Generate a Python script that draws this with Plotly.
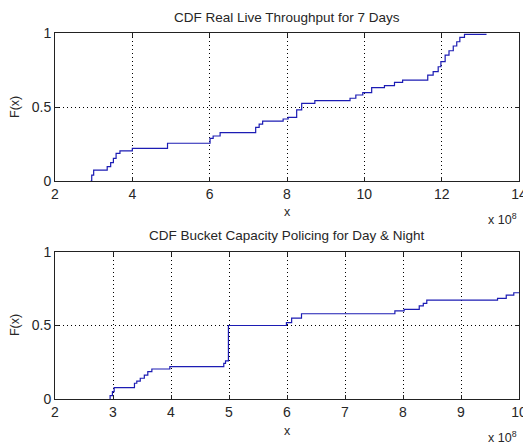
import plotly.graph_objects as go
from plotly.subplots import make_subplots

# Top: CDF Real Live Throughput for 7 Days (x in units of 1e8)
top_x = [2.92, 2.95, 3.0, 3.35, 3.44, 3.51, 3.58, 3.68, 4.0, 4.91, 6.01, 6.09, 6.27,
         7.19, 7.28, 7.37, 7.9, 8.03, 8.25, 8.38, 8.72, 9.63, 9.78, 9.96, 10.19,
         10.52, 10.78, 10.99, 11.64, 11.78, 11.91, 11.98, 12.09, 12.19, 12.3, 12.39,
         12.47, 12.59, 13.16]
top_y = [0, 0.04, 0.074, 0.097, 0.124, 0.153, 0.187, 0.203, 0.221, 0.255, 0.288, 0.304,
         0.327, 0.363, 0.385, 0.405, 0.419, 0.43, 0.48, 0.525, 0.543, 0.559, 0.581,
         0.597, 0.631, 0.644, 0.667, 0.682, 0.716, 0.739, 0.772, 0.806, 0.851, 0.88,
         0.912, 0.941, 0.971, 0.991, 0.991]

# Bottom: CDF Bucket Capacity Policing for Day & Night (x in units of 1e8)
bot_x = [2.94, 2.95, 2.99, 3.02, 3.37, 3.41, 3.47, 3.54, 3.6, 3.67, 3.98, 4.91, 4.94,
         4.99, 5.99, 6.08, 6.25, 7.86, 8.02, 8.28, 8.35, 8.41, 9.63, 9.78, 9.91, 10.0]
bot_y = [0, 0.023, 0.05, 0.077, 0.107, 0.122, 0.141, 0.163, 0.186, 0.204, 0.22, 0.243,
         0.259, 0.5, 0.52, 0.55, 0.58, 0.6, 0.61, 0.633, 0.65, 0.673, 0.685, 0.707,
         0.723, 0.723]

top_title = "CDF Real Live Throughput for 7 Days"
bot_title = "CDF Bucket Capacity Policing for Day & Night"
top_xticks = [2, 4, 6, 8, 10, 12, 14]
bot_xticks = [2, 3, 4, 5, 6, 7, 8, 9, 10]
y_ticks = [0, 0.5, 1]
y_ticklabels = ["0", "0.5", "1"]

LINE = "#1c1cb4"
TXT = "#262626"
FONT = "Liberation Sans, Arial, sans-serif"

fig = make_subplots(rows=2, cols=1)
fig.add_trace(go.Scatter(x=top_x, y=top_y, mode="lines", line=dict(color=LINE, width=1.2, shape="hv"),
                         showlegend=False), row=1, col=1)
fig.add_trace(go.Scatter(x=bot_x, y=bot_y, mode="lines", line=dict(color=LINE, width=1.2, shape="hv"),
                         showlegend=False), row=2, col=1)

axis_common = dict(showline=True, linecolor="#222", linewidth=1, mirror="ticks",
                   ticks="inside", ticklen=4, tickcolor="#222",
                   showgrid=True, gridcolor="#000", griddash="1px,3px", gridwidth=1,
                   zeroline=False, ticklabeloverflow="allow", automargin=False,
                   tickfont=dict(family=FONT, size=14, color=TXT))

fig.update_layout(
    width=523, height=444,
    margin=dict(l=55, r=4, t=33, b=45, autoexpand=False),
    paper_bgcolor="white", plot_bgcolor="white",
    font=dict(family=FONT, size=12, color=TXT),
    xaxis=dict(domain=[0, 1], range=[2, 14], tickvals=top_xticks, **axis_common),
    yaxis=dict(domain=[0.5956, 1], range=[0, 1], tickvals=y_ticks, ticktext=y_ticklabels, **axis_common),
    xaxis2=dict(domain=[0, 1], range=[2, 10], tickvals=bot_xticks, **axis_common),
    yaxis2=dict(domain=[0, 0.4016], range=[0, 1], tickvals=y_ticks, ticktext=y_ticklabels, **axis_common),
)

def ann(text, x, y, size=12.5, **kw):
    d = dict(text=text, x=x, y=y, xref="paper", yref="paper", showarrow=False,
             xanchor="center", yanchor="middle",
             font=dict(family=FONT, size=size, color=TXT))
    d.update(kw)
    fig.add_annotation(**d)

ann(top_title, 0.5, 1.0423, size=13.5)
ann(bot_title, 0.5, 0.4454, size=13.5)
ann("x", 0.5, 0.511)
ann("x", 0.5, -0.0874)
ann("F(x)", -0.0862, 0.798, textangle=-90)
ann("F(x)", -0.0862, 0.202, textangle=-90)
ann("x 10<sup>8</sup>", 1.0, 0.492, xanchor="right")
ann("x 10<sup>8</sup>", 1.0, -0.104, xanchor="right")

fig.write_html("out.html")
